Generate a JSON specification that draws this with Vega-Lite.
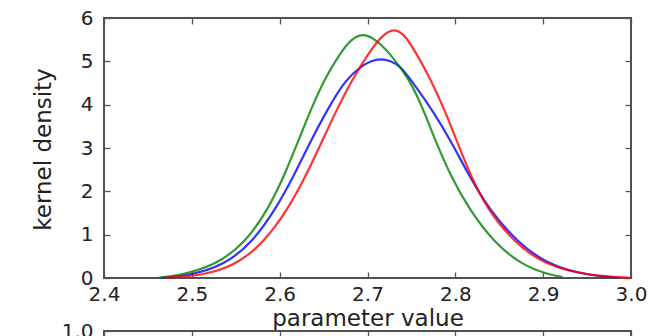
{
  "$schema": "https://vega.github.io/schema/vega-lite/v6.json",
  "padding": {"left": 30, "top": 7, "right": 0, "bottom": 0},
  "config": {
    "font": "DejaVu Sans",
    "view": {"stroke": "#505050", "strokeWidth": 2},
    "axis": {
      "domain": false, "grid": false,
      "tickColor": "#555", "tickWidth": 1.3, "tickSize": -6,
      "labelFont": "DejaVu Sans", "labelFontSize": 20, "labelColor": "#222",
      "titleFont": "DejaVu Sans", "titleFontSize": 23, "titleFontWeight": "normal", "titleColor": "#222",
      "labelFlush": false, "labelOverlap": false
    }
  },
  "datasets": {
    "curves": [
      {"series": "b", "x": 2.465, "y": 0.005},
      {"series": "b", "x": 2.4968, "y": 0.055},
      {"series": "b", "x": 2.5366, "y": 0.29},
      {"series": "b", "x": 2.5688, "y": 0.82},
      {"series": "b", "x": 2.5954, "y": 1.59},
      {"series": "b", "x": 2.6163, "y": 2.36},
      {"series": "b", "x": 2.6345, "y": 3.13},
      {"series": "b", "x": 2.6525, "y": 3.82},
      {"series": "b", "x": 2.675, "y": 4.59},
      {"series": "b", "x": 2.694, "y": 4.9},
      {"series": "b", "x": 2.704, "y": 5.01},
      {"series": "b", "x": 2.7154, "y": 5.065},
      {"series": "b", "x": 2.726, "y": 5.01},
      {"series": "b", "x": 2.7366, "y": 4.9},
      {"series": "b", "x": 2.749, "y": 4.59},
      {"series": "b", "x": 2.7757, "y": 3.82},
      {"series": "b", "x": 2.7958, "y": 3.13},
      {"series": "b", "x": 2.8156, "y": 2.36},
      {"series": "b", "x": 2.8383, "y": 1.59},
      {"series": "b", "x": 2.8706, "y": 0.82},
      {"series": "b", "x": 2.9067, "y": 0.29},
      {"series": "b", "x": 2.9522, "y": 0.055},
      {"series": "b", "x": 2.985, "y": 0.01},
      {"series": "g", "x": 2.462, "y": 0.005},
      {"series": "g", "x": 2.4854, "y": 0.055},
      {"series": "g", "x": 2.527, "y": 0.29},
      {"series": "g", "x": 2.5612, "y": 0.82},
      {"series": "g", "x": 2.5869, "y": 1.59},
      {"series": "g", "x": 2.6052, "y": 2.36},
      {"series": "g", "x": 2.6206, "y": 3.13},
      {"series": "g", "x": 2.6341, "y": 3.82},
      {"series": "g", "x": 2.6508, "y": 4.59},
      {"series": "g", "x": 2.6696, "y": 5.21},
      {"series": "g", "x": 2.681, "y": 5.5},
      {"series": "g", "x": 2.694, "y": 5.65},
      {"series": "g", "x": 2.708, "y": 5.53},
      {"series": "g", "x": 2.7245, "y": 5.21},
      {"series": "g", "x": 2.748, "y": 4.59},
      {"series": "g", "x": 2.765, "y": 3.82},
      {"series": "g", "x": 2.778, "y": 3.13},
      {"series": "g", "x": 2.7946, "y": 2.36},
      {"series": "g", "x": 2.8156, "y": 1.59},
      {"series": "g", "x": 2.844, "y": 0.82},
      {"series": "g", "x": 2.8763, "y": 0.29},
      {"series": "g", "x": 2.9067, "y": 0.08},
      {"series": "g", "x": 2.922, "y": 0.02},
      {"series": "r", "x": 2.47, "y": 0.005},
      {"series": "r", "x": 2.5119, "y": 0.055},
      {"series": "r", "x": 2.5499, "y": 0.29},
      {"series": "r", "x": 2.582, "y": 0.82},
      {"series": "r", "x": 2.6095, "y": 1.59},
      {"series": "r", "x": 2.6298, "y": 2.36},
      {"series": "r", "x": 2.6477, "y": 3.13},
      {"series": "r", "x": 2.6634, "y": 3.82},
      {"series": "r", "x": 2.6827, "y": 4.59},
      {"series": "r", "x": 2.7021, "y": 5.21},
      {"series": "r", "x": 2.716, "y": 5.59},
      {"series": "r", "x": 2.731, "y": 5.78},
      {"series": "r", "x": 2.744, "y": 5.57},
      {"series": "r", "x": 2.7548, "y": 5.21},
      {"series": "r", "x": 2.7719, "y": 4.59},
      {"series": "r", "x": 2.789, "y": 3.82},
      {"series": "r", "x": 2.8023, "y": 3.13},
      {"series": "r", "x": 2.8174, "y": 2.36},
      {"series": "r", "x": 2.8364, "y": 1.59},
      {"series": "r", "x": 2.8668, "y": 0.82},
      {"series": "r", "x": 2.9028, "y": 0.29},
      {"series": "r", "x": 2.9522, "y": 0.055},
      {"series": "r", "x": 2.999, "y": 0.005}
    ],
    "frame": [{"x": 2.4, "y": 0}, {"x": 3.0, "y": 1.0}]
  },
  "spacing": 53,
  "bounds": "flush",
  "vconcat": [
    {
      "width": 527,
      "height": 260,
      "data": {"name": "curves"},
      "layer": [
        {
          "mark": {"type": "line", "strokeWidth": 2.2, "opacity": 0.8, "interpolate": "basis"},
          "encoding": {
            "x": {"field": "x", "type": "quantitative",
              "scale": {"domain": [2.4, 3.0], "nice": false, "zero": false},
              "axis": {"title": "parameter value", "values": [2.4, 2.5, 2.6, 2.7, 2.8, 2.9, 3.0], "format": ".1f",
                "labelPadding": 12, "titleY": 47.6, "titleBaseline": "alphabetic"}},
            "y": {"field": "y", "type": "quantitative",
              "scale": {"domain": [0, 6], "nice": false},
              "axis": {"title": "kernel density", "values": [0, 1, 2, 3, 4, 5, 6], "labelPadding": 17,
                "titleX": -61, "titleY": 131, "titleBaseline": "middle", "titleAngle": -90, "titleAlign": "center"}},
            "color": {"field": "series", "type": "nominal",
              "scale": {"domain": ["b", "g", "r"], "range": ["#0000ff", "#008000", "#ff0000"]}, "legend": null}
          }
        },
        {
          "mark": {"type": "line", "opacity": 0},
          "encoding": {
            "x": {"field": "x", "type": "quantitative",
              "scale": {"domain": [2.4, 3.0], "nice": false, "zero": false},
              "axis": {"orient": "top", "labels": false, "title": null, "values": [2.4, 2.5, 2.6, 2.7, 2.8, 2.9, 3.0]}},
            "y": {"field": "y", "type": "quantitative",
              "scale": {"domain": [0, 6], "nice": false},
              "axis": {"orient": "right", "labels": false, "title": null, "values": [0, 1, 2, 3, 4, 5, 6]}},
            "detail": {"field": "series"}
          }
        }
      ],
      "resolve": {"axis": {"x": "independent", "y": "independent"}}
    },
    {
      "width": 527,
      "height": 260,
      "data": {"name": "frame"},
      "mark": {"type": "point", "opacity": 0},
      "encoding": {
        "x": {"field": "x", "type": "quantitative",
          "scale": {"domain": [2.4, 3.0], "nice": false, "zero": false},
          "axis": {"orient": "top", "labels": false, "title": null, "values": [2.4, 2.5, 2.6, 2.7, 2.8, 2.9, 3.0]}},
        "y": {"field": "y", "type": "quantitative",
          "scale": {"domain": [0, 1], "nice": false},
          "axis": {"title": null, "values": [1.0], "format": ".1f", "labelPadding": 17}}
      }
    }
  ]
}
